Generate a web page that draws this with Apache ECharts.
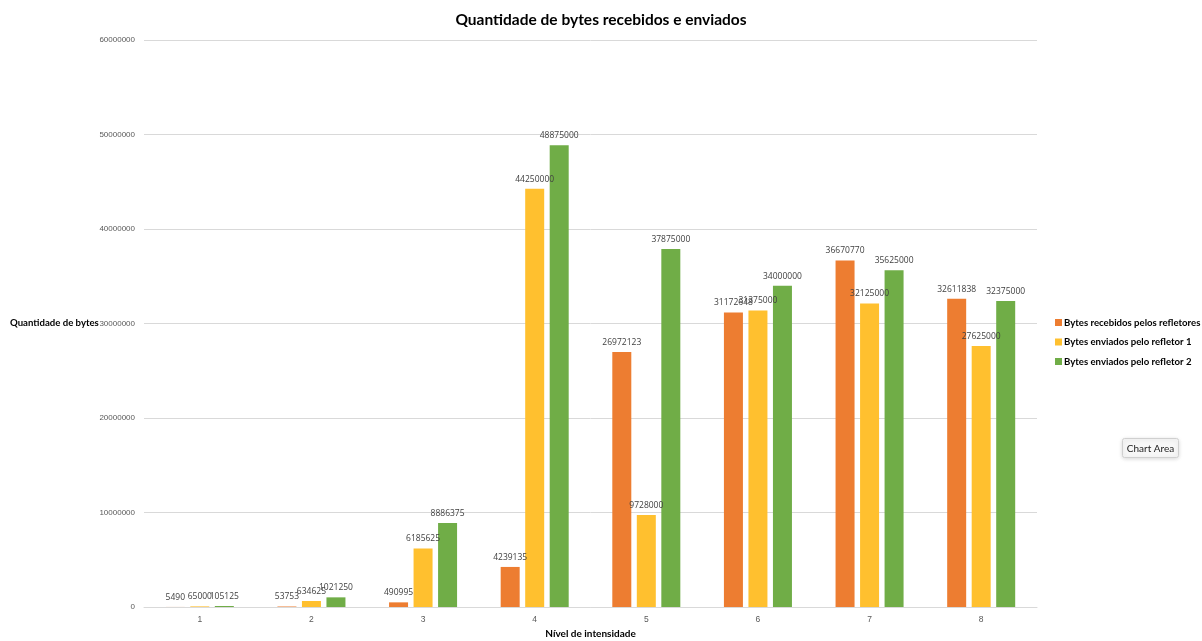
<!DOCTYPE html>
<html><head><meta charset="utf-8">
<script src="https://cdn.jsdelivr.net/npm/echarts@6/dist/echarts.min.js"></script>
<style>html,body{margin:0;padding:0;background:#fff}#c{width:1202px;height:641px}</style>
</head><body><div id="c"></div>
<script>
const categories = ['1','2','3','4','5','6','7','8'];
const recebidos = [5490, 53753, 490995, 4239135, 26972123, 31172648, 36670770, 32611838];
const refletor1 = [65000, 634625, 6185625, 44250000, 9728000, 31375000, 32125000, 27625000];
const refletor2 = [105125, 1021250, 8886375, 48875000, 37875000, 34000000, 35625000, 32375000];
const seriesNames = ['Bytes recebidos pelos refletores', 'Bytes enviados pelo refletor 1', 'Bytes enviados pelo refletor 2'];
const colors = ['#ED7D31', '#FFC02F', '#70AD47'];

const chart = echarts.init(document.getElementById('c'));
const lbl = {show: true, position: 'top', distance: 5, fontSize: 8.5, color: '#404040', fontFamily: 'Open Sans, sans-serif'};
const mk = (name, data, color) => ({
  name, type: 'bar', data, barWidth: 19, barGap: '29%',
  itemStyle: {color}, label: lbl
});
chart.setOption({
  animation: false,
  title: {text: 'Quantidade de bytes recebidos e enviados', left: 'center', top: 7,
    textStyle: {fontSize: 15.5, fontWeight: 'bold', color: '#000', fontFamily: 'Lato, sans-serif'}},
  legend: {orient: 'vertical', left: 1055, top: 317, padding: 0, itemWidth: 7, itemHeight: 7, itemGap: 8.5,
    icon: 'rect', textStyle: {fontSize: 9.6, fontWeight: 'bold', color: '#000', fontFamily: 'Lato, sans-serif', padding: [0, 0, 0, -3], lineHeight: 11}},
  grid: {left: 144, right: 165, top: 40, bottom: 34, containLabel: false, outerBoundsMode: 'none'},
  xAxis: {type: 'category', data: categories,
    name: 'Nível de intensidade', nameLocation: 'middle', nameGap: 21,
    nameTextStyle: {fontSize: 10, fontWeight: 'bold', color: '#000', fontFamily: 'Lato, sans-serif'},
    axisLine: {lineStyle: {color: '#d9d9d9'}}, axisTick: {show: false},
    axisLabel: {fontSize: 8.5, color: '#595959', margin: 8}},
  yAxis: {type: 'value', min: 0, max: 60000000, interval: 10000000,
    axisLine: {show: false}, axisTick: {show: false},
    splitLine: {lineStyle: {color: '#d9d9d9'}},
    axisLabel: {fontSize: 8, color: '#595959', margin: 9, formatter: v => String(v)}},
  series: [mk(seriesNames[0], recebidos, colors[0]), mk(seriesNames[1], refletor1, colors[1]), mk(seriesNames[2], refletor2, colors[2])],
  graphic: [
    {type: 'text', left: 10, top: 318, style: {text: 'Quantidade de bytes', fontSize: 9.6, fontWeight: 'bold', fill: '#000', fontFamily: 'Lato, sans-serif'}},
    {type: 'group', left: 1122, top: 438, children: [
      {type: 'rect', shape: {x: 0, y: 0, width: 56, height: 19, r: 2},
        style: {fill: '#f7f7f7', stroke: '#d0d0d0', lineWidth: 1, shadowBlur: 4, shadowColor: 'rgba(0,0,0,0.15)', shadowOffsetY: 1}},
      {type: 'text', x: 28, y: 10, style: {text: 'Chart Area', fontSize: 10, fill: '#222', align: 'center', verticalAlign: 'middle', fontFamily: 'Lato, sans-serif'}}
    ]}
  ]
});
</script></body></html>
